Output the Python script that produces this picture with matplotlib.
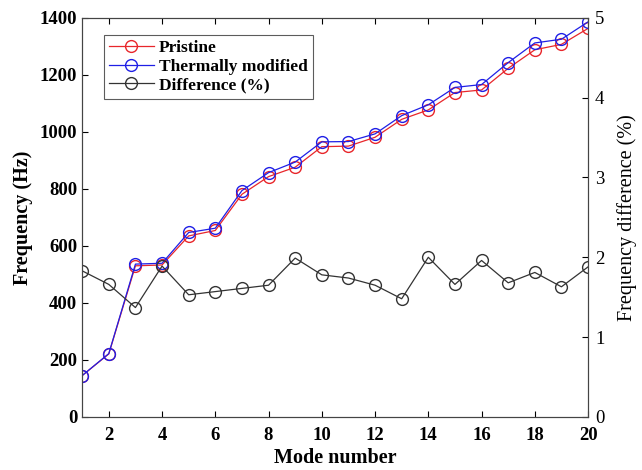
import matplotlib
matplotlib.use("Agg")
import matplotlib.pyplot as plt
import numpy as np

modes = np.arange(1, 21)
pristine = [145, 221, 530, 533, 635, 654, 781, 843, 876, 948,
            950, 981, 1044, 1077, 1138, 1147, 1223, 1288, 1307, 1363]
thermal = [145, 222, 536, 539, 647, 662, 794, 857, 894, 965,
           966, 993, 1057, 1095, 1156, 1166, 1243, 1312, 1325, 1386]
diff_pct = [1.83, 1.66, 1.37, 1.89, 1.53, 1.57, 1.61, 1.65, 1.99, 1.78,
            1.74, 1.65, 1.48, 2.00, 1.66, 1.96, 1.68, 1.81, 1.63, 1.88]

plt.rcParams['font.family'] = ['Liberation Serif', 'DejaVu Serif']

fig = plt.figure(figsize=(6.42, 4.70), dpi=100)
ax = fig.add_axes([0.128, 0.113, 0.788, 0.849])
ax2 = ax.twinx()

mk = dict(marker='o', markersize=8.5, markerfacecolor='none', linewidth=0.9)
l1, = ax.plot(modes, pristine, color='#e8262b', markeredgecolor='#e8262b', label='Pristine', **mk)
l2, = ax.plot(modes, thermal, color='#1f1fe6', markeredgecolor='#1f1fe6', label='Thermally modified', **mk)
l3, = ax2.plot(modes, diff_pct, color='#333333', markeredgecolor='#333333', label='Difference (%)', **mk)

ax.set_xlim(1, 20)
ax.set_ylim(0, 1400)
ax2.set_ylim(0, 5)
ax.set_xticks(range(2, 21, 2))
ax.set_yticks(range(0, 1401, 200))
ax2.set_yticks(range(0, 6))

ax.tick_params(direction='in', top=True, labelsize=13.5, length=4)
ax.tick_params(axis='x', pad=7)
ax2.tick_params(direction='in', labelsize=13.5, length=4, pad=5)
for lab in ax.get_xticklabels() + ax.get_yticklabels():
    lab.set_fontweight('bold')

ax.set_xlabel('Mode number', fontsize=14.5, fontweight='bold', labelpad=3)
ax.set_ylabel('Frequency (Hz)', fontsize=14.5, fontweight='bold', labelpad=5)
ax2.set_ylabel('Frequency difference (%)', fontsize=14.5, labelpad=9)

leg = ax.legend(handles=[l1, l2, l3], loc='upper left', bbox_to_anchor=(0.025, 0.98),
                fancybox=False, edgecolor='#333333', handlelength=2.6, borderpad=0.3,
                labelspacing=0.15, handletextpad=0.3,
                prop={'family': ['Liberation Serif'], 'weight': 'bold', 'size': 12.5})
leg.get_frame().set_linewidth(0.8)

for a in (ax, ax2):
    for s in a.spines.values():
        s.set_color('#444444')

fig.savefig('out.png', dpi=100)
